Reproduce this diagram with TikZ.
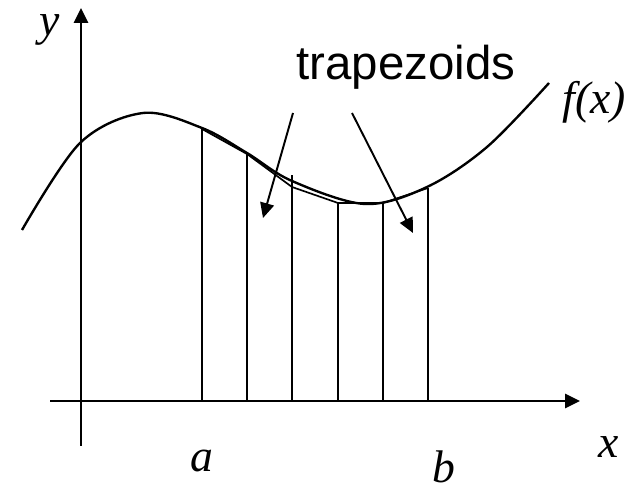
\documentclass[tikz,border=0pt]{standalone}
\usepackage{fontspec}
\setmainfont{Liberation Serif}
\newfontfamily\arialfont{Liberation Sans}
\usetikzlibrary{arrows.meta}

\begin{document}
\begin{tikzpicture}[
    x=0.02cm, y=-0.02cm,
    >={Triangle[length=0.3cm, width=0.28cm]},
    axis/.style={->, line width=1.5pt},
    strip/.style={line width=0.95pt},
    pointer/.style={->, line width=1.1pt},
    var/.style={anchor=base, inner sep=1pt, font=\fontsize{26}{30}\selectfont\itshape},
    note/.style={anchor=base, inner sep=1pt, font=\arialfont\fontsize{27}{32}\selectfont}
]
\useasboundingbox (0,0) rectangle (635,492);

% axes
\coordinate (xstart) at (50,401);
\coordinate (xend) at (580,401);
\coordinate (ystart) at (81,446);
\coordinate (yend) at (81,8);
\draw[axis] (xstart) -- (xend);
\draw[axis] (ystart) -- (yend);

% strips under the curve
\foreach \i/\x/\h/\c in {0/202/129/129, 1/247/154/154, 2/292/175/187,
                         3/338/203/203, 4/383/203/203, 5/428/188/188} {
  \coordinate (bot\i) at (\x,401);
  \coordinate (top\i) at (\x,\h);
  \coordinate (cut\i) at (\x,\c);
  \draw[strip] (bot\i) -- (top\i);
}
\draw[strip] (cut0) -- (cut1) -- (cut2) -- (cut3) -- (cut4) -- (cut5);

% the function
\draw[line width=1.35pt] plot[smooth, tension=0.55] coordinates {
  (22,230) (80,143) (143,113) (202,128) (247,153) (292,181)
  (365,204) (427,187) (487,147) (549,83)};

% labels
\node[var] (ylab) at (50,36) {y};
\node[var] (xlab) at (609,458) {x};
\node[var] (alab) at (202,472) {a};
\node[var] (blab) at (444,482) {b};
\node[var] (flab) at (594,114) {f(x)};
\node[note] (trap) at (406,80) {trapezoids};

% pointers
\coordinate (p1) at (293,113);
\coordinate (p2) at (352,113);
\coordinate (t1) at (263,218);
\coordinate (t2) at (413,233);
\draw[pointer] (p1) -- (t1);
\draw[pointer] (p2) -- (t2);

\end{tikzpicture}
\end{document}
